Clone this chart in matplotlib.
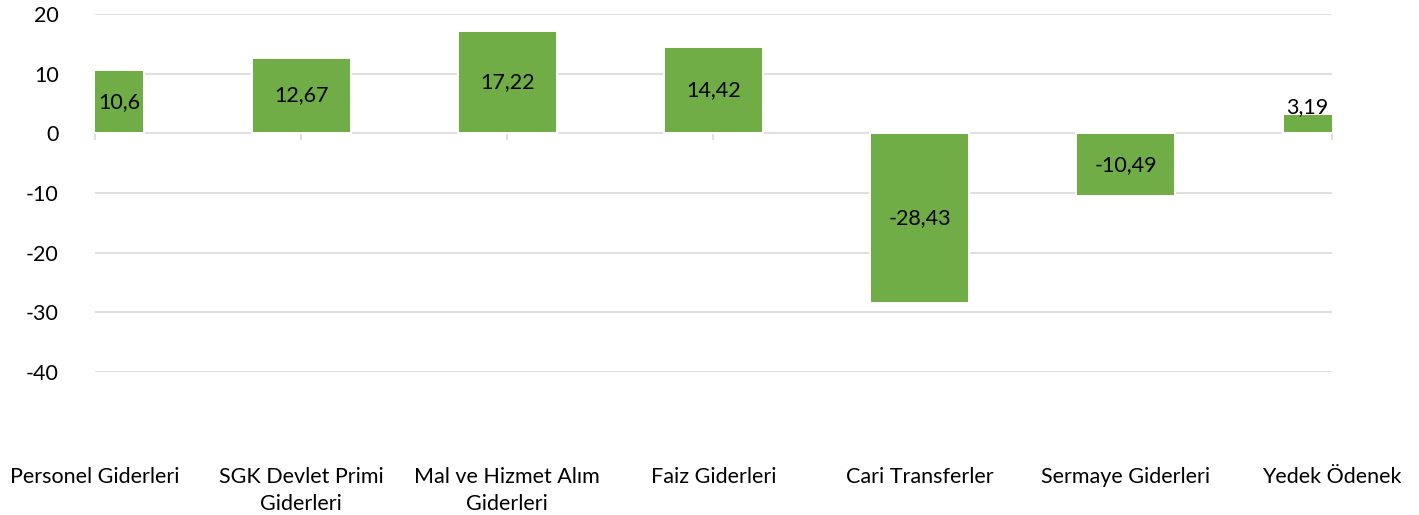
import matplotlib.pyplot as plt
from matplotlib.transforms import blended_transform_factory
import numpy as np

plt.rcParams['font.family'] = ['Lato', 'DejaVu Sans']
plt.rcParams['axes.unicode_minus'] = False

categories = ["Personel Giderleri", "SGK Devlet Primi\nGiderleri", "Mal ve Hizmet Alım\nGiderleri",
              "Faiz Giderleri", "Cari Transferler", "Sermaye Giderleri", "Yedek Ödenek"]
values = [10.6, 12.67, 17.22, 14.42, -28.43, -10.49, 3.19]
value_labels = ["10,6", "12,67", "17,22", "14,42", "-28,43", "-10,49", "3,19"]
yticks = [20, 10, 0, -10, -20, -30, -40]

green = "#70AD47"
grid_c = "#D9D9D9"
fs = 15.5

fig = plt.figure(figsize=(14.19, 5.15), dpi=100)
ax = fig.add_axes([0.0669, 0.2777, 0.8718, 0.6951])

x = np.arange(len(categories))
w = 0.48

for yv in yticks:
    ax.axhline(yv, color=grid_c, lw=1.2, zorder=0)
ax.vlines(x, -1.15, 0, color=grid_c, lw=1.2, zorder=0, clip_on=False)

ax.bar(x, values, width=w, color=green, edgecolor="white", linewidth=1.4, zorder=2)

n = len(categories)
for i, (v, lab) in enumerate(zip(values, value_labels)):
    xi = i
    if i == 0:
        xi = i + w / 4
    elif i == n - 1:
        xi = i - w / 4
    if abs(v) < 5:
        ax.text(xi, v - 0.5, lab, ha='center', va='bottom', fontsize=fs, zorder=3)
    else:
        ax.text(xi, v / 2, lab, ha='center', va='center', fontsize=fs, zorder=3)

ax.set_xlim(0, n - 1)
ax.set_ylim(-40, 20)
ax.set_yticks(yticks)
ax.set_xticks([])
ax.tick_params(axis='y', length=0, pad=26, labelsize=fs)
for s in ax.spines.values():
    s.set_visible(False)

tr = blended_transform_factory(ax.transData, ax.transAxes)
for i, c in enumerate(categories):
    ax.text(i, -0.266, c, transform=tr, ha='center', va='top', fontsize=fs, linespacing=1.4)

fig.savefig("out.png", dpi=100)
